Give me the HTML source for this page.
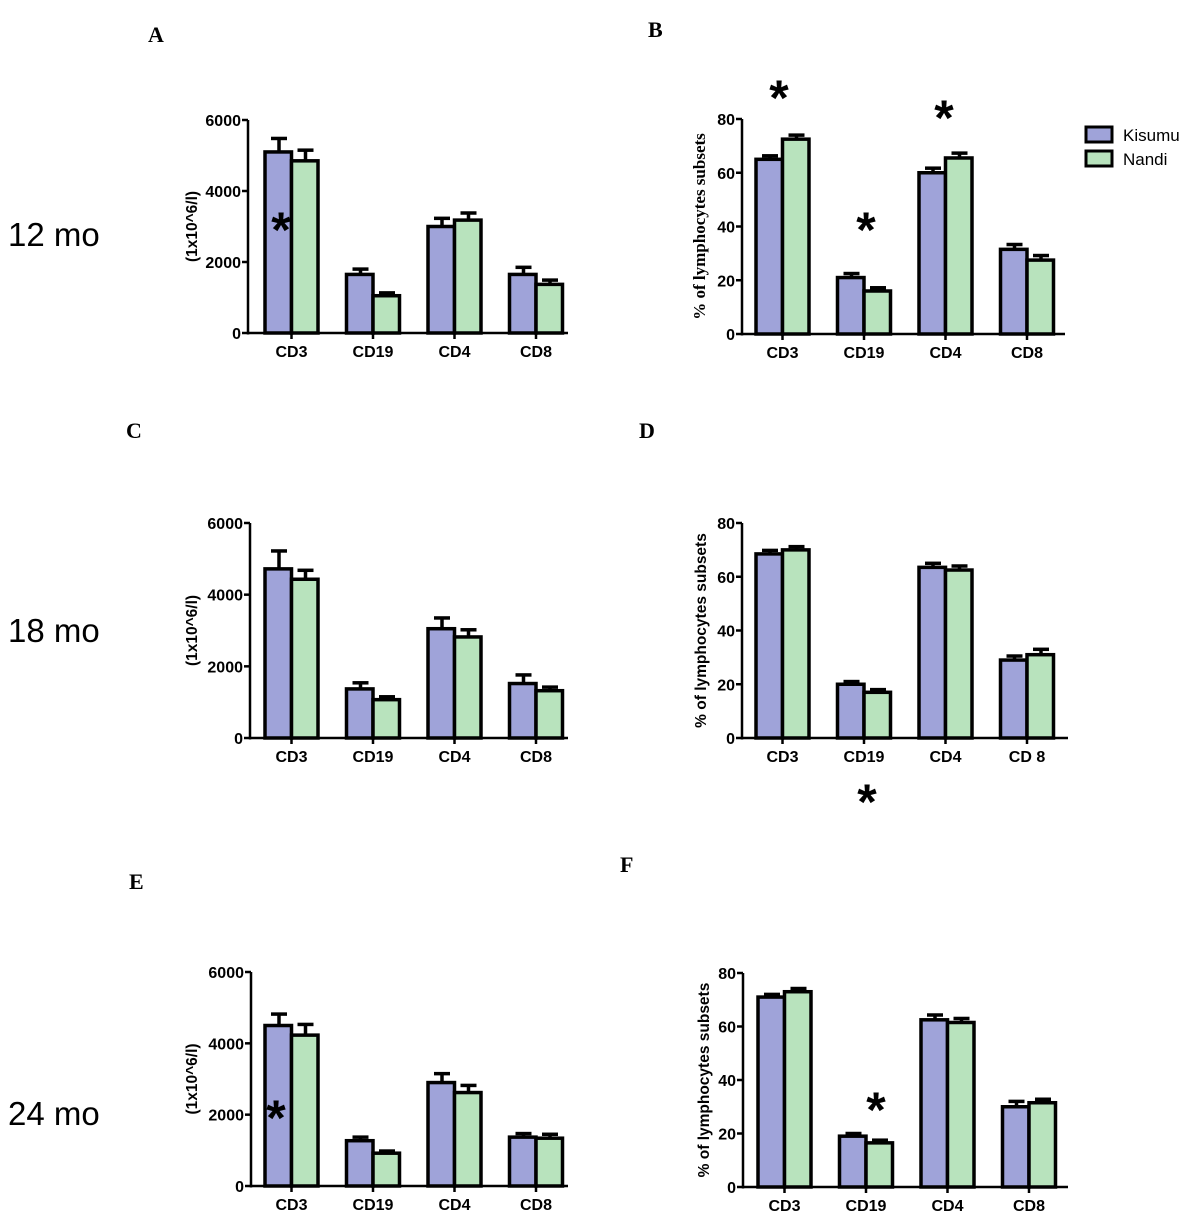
<!DOCTYPE html>
<html><head><meta charset="utf-8"><style>
html,body{margin:0;padding:0;background:#fff;}
svg text{font-family:"Liberation Sans",sans-serif;}
.ser{font-family:"Liberation Serif",serif !important;}
</style></head><body>
<svg id="fig" width="1200" height="1226" viewBox="0 0 1200 1226" xmlns="http://www.w3.org/2000/svg">
<g font-weight="bold" font-size="22">
<text class="ser" x="148" y="42">A</text>
<text class="ser" x="648" y="37">B</text>
<text class="ser" x="126" y="438">C</text>
<text class="ser" x="639" y="438">D</text>
<text class="ser" x="129" y="889">E</text>
<text class="ser" x="620" y="872">F</text>
</g>
<g font-size="33">
<text x="8" y="246">12 mo</text>
<text x="8" y="642">18 mo</text>
<text x="8" y="1125">24 mo</text>
</g>
<g>
<rect x="1086" y="127" width="26" height="15" fill="#9fa3d9" stroke="#000" stroke-width="3"/>
<text x="1123" y="141" font-size="17">Kisumu</text>
<rect x="1086" y="151" width="26" height="15" fill="#b8e3bd" stroke="#000" stroke-width="3"/>
<text x="1123" y="165" font-size="17">Nandi</text>
</g>
</svg>
<script>
const categories = ["CD3","CD19","CD4","CD8"];
const categoriesD = ["CD3","CD19","CD4","CD 8"];
const ticksCount = ["0","2000","4000","6000"];
const ticksPct = ["0","20","40","60","80"];
const aKisumu = [5100,1650,3000,1650], aKisumuErr = [380,150,230,200];
const aNandi = [4850,1050,3180,1370], aNandiErr = [300,80,200,120];
const bKisumu = [65,21,60,31.5], bKisumuErr = [1.3,1.5,1.7,1.8];
const bNandi = [72.5,16,65.5,27.5], bNandiErr = [1.5,1.2,1.8,1.7];
const cKisumu = [4720,1370,3050,1520], cKisumuErr = [500,170,300,240];
const cNandi = [4430,1070,2820,1320], cNandiErr = [250,80,200,100];
const dKisumu = [68.5,20,63.5,29], dKisumuErr = [1.3,1,1.5,1.5];
const dNandi = [70,17,62.5,31], dNandiErr = [1.2,1,1.5,2];
const eKisumu = [4500,1270,2900,1370], eKisumuErr = [320,100,250,100];
const eNandi = [4230,920,2620,1340], eNandiErr = [300,60,200,110];
const fKisumu = [71,19,62.5,30], fKisumuErr = [1,1,1.8,2];
const fNandi = [73,16.5,61.5,31.5], fNandiErr = [1.2,1,1.5,1.3];

const NS="http://www.w3.org/2000/svg";
const svg=document.getElementById('fig');
function mk(tag,attrs,parent){const e=document.createElementNS(NS,tag);for(const k in attrs)e.setAttribute(k,attrs[k]);parent.appendChild(e);return e;}

function panel(id,o){
  const g=mk('g',{},svg);
  
  
  const ticks=o.ticks, max=parseFloat(ticks[ticks.length-1]);
  const y=v=>o.y0-(v/max)*(o.y0-o.yTop);
  const gx=i=>o.xBar+i*81.5;
  const series=[[o.k,o.ke,'#9fa3d9','kisumu'],[o.n,o.ne,'#b8e3bd','nandi']];
  categories.forEach((c,i)=>{
    series.forEach((s,j)=>{
      const x=gx(i)+j*26.5, v=s[0][i], e=s[1][i];
      const ex=x+14;
      const el=mk('line',{x1:ex,x2:ex,y1:y(v),y2:y(v+e),stroke:'#000','stroke-width':3.5},g);
      
      
      const cap=mk('line',{x1:ex-8,x2:ex+8,y1:y(v+e),y2:y(v+e),stroke:'#000','stroke-width':3.5},g);
      
      
      const r=mk('rect',{x:x,y:y(v),width:26.5,height:o.y0-y(v),fill:s[2],stroke:'#000','stroke-width':3.5},g);
      
      
    });
  });
  const ya=mk('line',{x1:o.x0,x2:o.x0,y1:o.yTop,y2:o.y0+1.5,stroke:'#000','stroke-width':2.5},g);
  
  
  const xa=mk('line',{x1:o.x0,x2:o.xEnd,y1:o.y0,y2:o.y0,stroke:'#000','stroke-width':2.5},g);
  
  
  ticks.forEach(t=>{
    const v=parseFloat(t);
    mk('line',{x1:o.x0-6,x2:o.x0,y1:y(v),y2:y(v),stroke:'#000','stroke-width':2.5},g);
    const tx=mk('text',{x:o.x0-7,y:y(v)+6,'text-anchor':'end','font-size':16,'font-weight':'bold'},g);
    tx.textContent=t;
    
    
  });
  o.cats.forEach((c,i)=>{
    const cx=gx(i)+26.5;
    mk('line',{x1:cx,x2:cx,y1:o.y0,y2:o.y0+6,stroke:'#000','stroke-width':2.5},g);
    const tx=mk('text',{x:cx,y:o.y0+24,'text-anchor':'middle','font-size':16,'font-weight':'bold'},g);
    tx.textContent=c;
    
    
  });
  const ty=(o.yTop+o.y0)/2;
  const tt=mk('text',{x:0,y:0,'text-anchor':'middle','font-size':o.serif?17:15.5,'font-weight':'bold',transform:`translate(${o.titleX},${ty}) rotate(-90)`},g);
  if(o.serif) tt.setAttribute('class','ser');
  tt.textContent=o.title;
  
  
  (o.stars||[]).forEach(s=>{
    const st=mk('text',{x:s[0],y:s[1],'text-anchor':'middle','font-size':50,'font-weight':'bold'},g);
    st.textContent='*';
    
    
  });
}
const cnt="(1x10^6/l)", pct="% of lymphocytes subsets";
panel('a',{x0:248,xEnd:568,xBar:265,yTop:120,y0:333,ticks:ticksCount,k:aKisumu,ke:aKisumuErr,n:aNandi,ne:aNandiErr,cats:categories,title:cnt,titleX:197,stars:[[281,247]]});
panel('b',{x0:742,xEnd:1065,xBar:756,yTop:119,y0:334,ticks:ticksPct,k:bKisumu,ke:bKisumuErr,n:bNandi,ne:bNandiErr,cats:categories,title:pct,titleX:705,serif:true,stars:[[779,115],[866,247],[944,135]]});
panel('c',{x0:250,xEnd:568,xBar:265,yTop:523,y0:738,ticks:ticksCount,k:cKisumu,ke:cKisumuErr,n:cNandi,ne:cNandiErr,cats:categories,title:cnt,titleX:197});
panel('d',{x0:742,xEnd:1068,xBar:756,yTop:523,y0:738,ticks:ticksPct,k:dKisumu,ke:dKisumuErr,n:dNandi,ne:dNandiErr,cats:categoriesD,title:pct,titleX:706,stars:[[867,819]]});
panel('e',{x0:251,xEnd:568,xBar:265,yTop:972,y0:1186,ticks:ticksCount,k:eKisumu,ke:eKisumuErr,n:eNandi,ne:eNandiErr,cats:categories,title:cnt,titleX:197,stars:[[276,1135]]});
panel('f',{x0:743,xEnd:1068,xBar:758,yTop:973,y0:1187,ticks:ticksPct,k:fKisumu,ke:fKisumuErr,n:fNandi,ne:fNandiErr,cats:categories,title:pct,titleX:709,stars:[[876,1127]]});
</script>
</body></html>
